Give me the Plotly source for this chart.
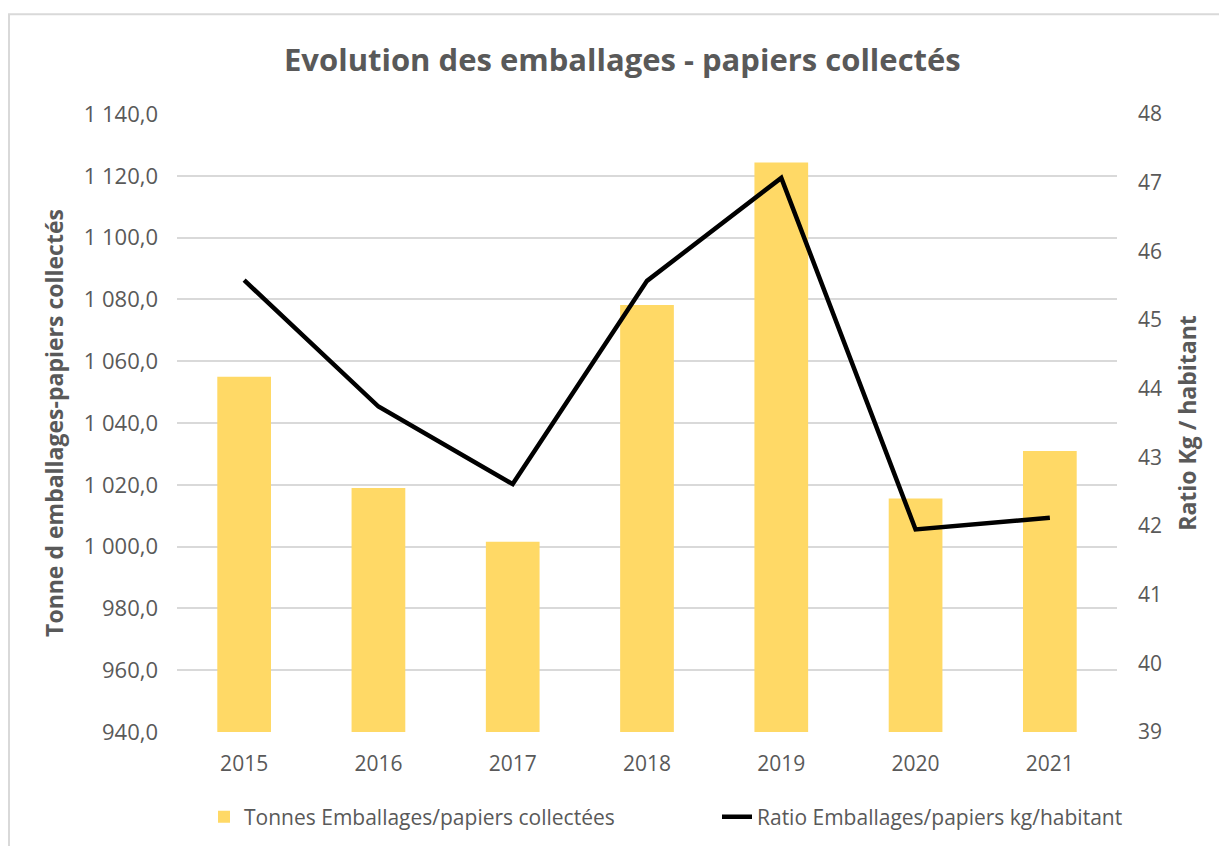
import plotly.graph_objects as go

years = ["2015", "2016", "2017", "2018", "2019", "2020", "2021"]
tonnes = [1055.0, 1019.0, 1001.6, 1078.2, 1124.3, 1015.6, 1030.9]
ratio = [45.58, 43.74, 42.61, 45.57, 47.07, 41.95, 42.12]

left_ticks = [940, 960, 980, 1000, 1020, 1040, 1060, 1080, 1100, 1120, 1140]
left_ticktext = ["940,0", "960,0", "980,0", "1 000,0", "1 020,0", "1 040,0",
                 "1 060,0", "1 080,0", "1 100,0", "1 120,0", "1 140,0"]
right_ticks = [39, 40, 41, 42, 43, 44, 45, 46, 47, 48]

FONT = "Open Sans"
GREY = "#595959"
W, H = 1219, 838  # page has an 8px body margin

fig = go.Figure()
fig.add_trace(go.Bar(
    x=years, y=tonnes, name="Tonnes Emballages/papiers collectées",
    marker=dict(color="#FFD966", line=dict(width=0)), yaxis="y",
    legend="legend", showlegend=True,
))
fig.add_trace(go.Scatter(
    x=years, y=ratio, name="Ratio Emballages/papiers kg/habitant",
    mode="lines", line=dict(color="#000000", width=4.5), yaxis="y2",
    legend="legend2", showlegend=True,
))

leg_y = 1 - (817 - 8) / H

fig.update_layout(
    width=W, height=H,
    showlegend=True,
    margin=dict(l=169, r=110, t=106, b=114, autoexpand=False),
    paper_bgcolor="white", plot_bgcolor="white",
    font=dict(family=FONT, color=GREY),
    bargap=0.6,
    title=dict(text="<b>Evolution des emballages - papiers collectés</b>",
               x=0.504, xanchor="center", y=0.938, yanchor="middle",
               font=dict(size=31, color=GREY, family=FONT)),
    xaxis=dict(showgrid=False, showline=False, ticks="", automargin=False,
               tickfont=dict(size=21, color=GREY), ticklabelstandoff=17),
    yaxis=dict(range=[940, 1140], tickvals=left_ticks, ticktext=left_ticktext,
               showgrid=True, gridcolor="#D9D9D9", gridwidth=1.5, automargin=False,
               zeroline=False, showline=False, ticks="",
               tickfont=dict(size=22, color=GREY), ticklabelstandoff=18,
               title=dict(text="<b>Tonne d emballages-papiers collectés</b>",
                          font=dict(size=23, color=GREY), standoff=13)),
    yaxis2=dict(range=[39, 48], tickvals=right_ticks, overlaying="y", side="right",
                showgrid=False, zeroline=False, showline=False, ticks="", automargin=False,
                tickfont=dict(size=21, color=GREY), ticklabelstandoff=20,
                title=dict(text="<b>Ratio Kg / habitant</b>",
                           font=dict(size=23, color=GREY), standoff=18)),
    legend=dict(orientation="h", xref="container", x=(204 - 8) / W, xanchor="left",
                yref="container", y=leg_y, yanchor="middle", visible=True,
                font=dict(size=21, color=GREY)),
    legend2=dict(orientation="h", xref="container", x=(717 - 8) / W, xanchor="left",
                 yref="container", y=leg_y, yanchor="middle", visible=True,
                 font=dict(size=21, color=GREY)),
    shapes=[dict(type="rect", xref="paper", yref="paper",
                 x0=-0.1787, x1=1.2, y0=-0.3, y1=1.1613,
                 line=dict(color="#D9D9D9", width=2), fillcolor="rgba(0,0,0,0)",
                 layer="below")],
)

fig.write_html("out.html")
